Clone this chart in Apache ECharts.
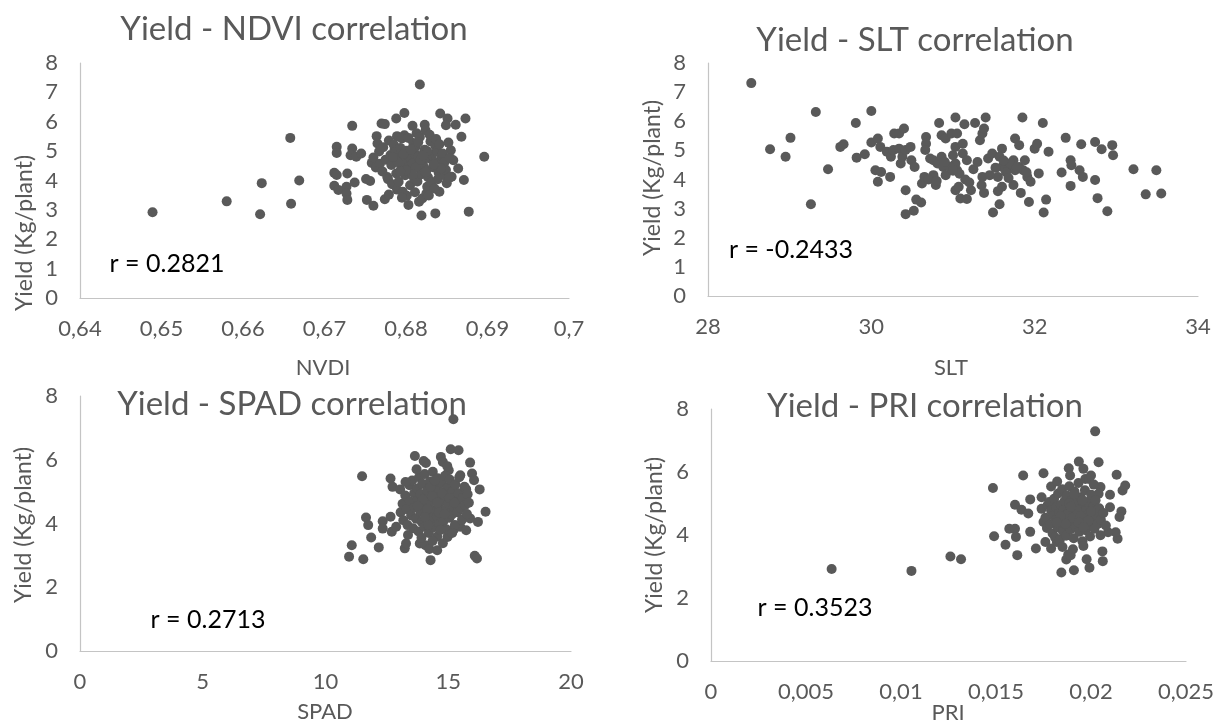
<!DOCTYPE html>
<html>
<head>
<meta charset="utf-8">
<title>Yield correlations</title>
<script src="https://cdn.jsdelivr.net/npm/echarts@6/dist/echarts.min.js"></script>
<style>
  html, body { margin: 0; padding: 0; background: #ffffff; }
  #chart { width: 1226px; height: 724px; }
</style>
</head>
<body>
<div id="chart"></div>
<script>
// Yield (kg/plant) against four canopy indices, one [index, yield] pair per plant.
const ndviPoints = [
  [0.6489,2.92],[0.6580,3.29],[0.6621,2.85],[0.6623,3.91],[0.6658,5.45],[0.6659,3.21],[0.6669,4.00],
  [0.6734,5.86],[0.6715,5.15],[0.6715,4.94],[0.6712,4.26],[0.6715,4.19],[0.6712,3.82],[0.6717,3.68],
  [0.6728,4.24],[0.6727,3.79],[0.6727,3.56],[0.6728,3.34],[0.6734,5.09],[0.6732,4.86],[0.6739,4.81],[0.6745,4.92],
  [0.6737,3.93],[0.6751,4.05],[0.6752,3.34],[0.6760,3.14],[0.6756,3.98],[0.6758,4.60],[0.6760,4.78],
  [0.6764,5.51],[0.6765,5.26],[0.6770,5.94],[0.6774,5.92],[0.6774,3.36],[0.6788,6.11],[0.6798,6.30],
  [0.6789,5.51],[0.6798,5.54],[0.6801,3.48],[0.6803,3.17],[0.6808,5.86],[0.6823,5.90],[0.6817,7.27],
  [0.6819,2.81],[0.6816,3.28],[0.6820,3.39],[0.6825,3.56],[0.6836,2.88],[0.6836,5.37],[0.6837,5.15],
  [0.6842,6.28],[0.6851,6.11],[0.6849,5.88],[0.6861,5.90],[0.6873,6.11],[0.6868,5.49],[0.6855,5.03],
  [0.6858,4.69],[0.6864,4.41],[0.6856,4.13],[0.6871,4.02],[0.6841,3.62],[0.6877,2.94],[0.6896,4.81],
  [0.6763,4.44],[0.6768,4.57],[0.6767,4.99],[0.6772,5.13],[0.6771,4.31],[0.6777,4.12],[0.6775,4.71],[0.6779,5.36],
  [0.6781,4.87],[0.6778,4.04],[0.6783,3.87],[0.6786,5.06],[0.6782,4.53],[0.6788,4.24],[0.6785,5.22],[0.6789,3.69],
  [0.6792,4.79],[0.6787,4.96],[0.6794,4.40],[0.6791,3.96],[0.6795,5.43],[0.6797,4.64],[0.6793,5.11],[0.6799,4.18],
  [0.6802,4.86],[0.6796,3.62],[0.6804,4.47],[0.6800,5.01],[0.6806,4.73],[0.6803,4.29],[0.6809,5.28],[0.6805,3.84],
  [0.6811,4.91],[0.6808,4.58],[0.6813,5.61],[0.6810,4.07],[0.6815,4.81],[0.6812,5.16],[0.6818,4.38],[0.6814,3.97],
  [0.6820,4.66],[0.6817,5.48],[0.6822,4.95],[0.6819,4.21],[0.6824,5.71],[0.6821,4.52],[0.6826,3.79],[0.6823,5.05],
  [0.6828,4.76],[0.6825,4.34],[0.6830,5.33],[0.6827,4.11],[0.6832,4.88],[0.6829,5.56],[0.6834,4.61],[0.6831,3.93],
  [0.6836,5.19],[0.6833,4.45],[0.6838,4.99],[0.6835,3.73],[0.6840,4.27],[0.6837,5.41],[0.6842,4.69],[0.6839,4.04],
  [0.6844,4.84],[0.6846,4.51],[0.6841,5.23],[0.6848,4.17],[0.6845,4.92],[0.6850,3.91],[0.6847,4.62],[0.6852,5.29],
  [0.6849,4.36],[0.6854,4.77],[0.6853,4.09],[0.6779,3.52],[0.6795,3.41],[0.6811,3.60],[0.6828,3.49],[0.6843,4.41],
  [0.6790,4.62],[0.6797,4.90],[0.6806,5.05],[0.6812,4.45],[0.6818,4.70],[0.6824,4.28],[0.6808,4.20],[0.6800,4.35],
  [0.6815,5.30],[0.6826,5.00],[0.6784,4.80],[0.6803,5.45],[0.6821,4.85],[0.6834,4.55],[0.6793,4.30]
];

const sltPoints = [
  [28.53,7.31],[28.76,5.04],[28.95,4.78],[29.01,5.43],[29.26,3.15],[29.32,6.32],[29.47,4.35],[29.62,5.12],
  [29.66,5.21],[29.81,5.94],[29.82,4.75],[29.92,4.87],[30.00,6.35],[30.00,5.27],[30.08,5.41],[30.05,4.32],
  [30.12,4.26],[30.08,3.92],[30.11,5.12],[30.19,4.95],[30.24,4.78],[30.27,5.01],[30.34,5.06],[30.23,4.09],
  [30.28,5.58],[30.34,5.58],[30.40,5.75],[30.36,4.55],[30.38,4.78],[30.42,5.01],[30.42,3.63],[30.42,2.81],
  [30.48,5.12],[30.49,4.66],[30.53,4.43],[30.52,2.93],[30.55,3.31],[30.61,3.21],[30.62,3.86],[30.65,4.09],
  [30.67,5.46],[30.67,5.23],[30.66,5.01],[30.72,4.72],[30.76,4.66],[30.81,4.55],[30.79,3.81],[30.76,4.15],
  [30.83,5.94],[30.86,5.52],[30.91,5.41],[30.86,4.78],[30.88,4.43],[30.91,4.15],[30.98,5.58],[31.05,5.58],
  [31.03,6.13],[31.03,5.12],[31.00,4.83],[31.03,4.55],[31.05,4.32],[31.03,3.63],[31.07,3.75],[31.09,3.35],
  [31.17,3.33],[31.14,5.90],[31.27,5.94],[31.12,5.23],[31.12,4.89],[31.17,4.66],[31.22,3.63],[31.33,5.35],
  [31.36,5.58],[31.38,5.75],[31.40,6.13],[31.36,4.09],[31.38,3.54],[31.43,4.72],[31.48,4.89],[31.49,2.87],
  [31.57,3.15],[31.60,5.06],[31.57,4.78],[31.60,4.43],[31.60,3.75],[31.55,4.09],[31.69,4.43],[31.74,4.66],
  [31.76,4.32],[31.81,4.43],[31.86,4.32],[31.74,3.81],[31.83,3.54],[31.76,5.41],[31.81,5.18],[31.85,6.13],
  [31.93,3.23],[31.95,3.92],[31.91,4.09],[31.88,4.66],[32.00,5.06],[32.03,5.23],[32.05,4.21],[32.10,5.94],
  [32.11,2.87],[32.14,3.31],[32.17,4.95],[32.33,4.24],[32.38,5.43],[32.44,4.66],[32.45,4.49],[32.44,3.78],
  [32.57,5.21],[32.55,4.32],[32.59,4.09],[32.74,5.29],[32.74,3.98],[32.77,3.36],[32.82,5.04],[32.89,2.91],
  [32.95,5.18],[32.96,4.83],[33.21,4.35],[33.36,3.49],[33.49,4.32],[33.55,3.52],
  [30.95,4.45],[31.08,4.20],[31.15,4.00],[31.25,4.35],[31.30,4.60],[31.45,4.15],[31.52,4.40],[31.65,4.25],
  [31.70,4.55],[31.78,4.40],[31.62,4.65],[30.70,4.00],[30.80,3.95],[30.90,4.60],[31.00,4.30],[31.20,3.90],
  [31.35,3.80],[31.55,3.60],[31.68,4.05],[31.90,4.25]
];

const spadPoints = [
  [10.96,2.96],[11.07,3.32],[11.54,2.88],[11.49,5.48],[11.65,4.19],[11.74,3.95],[11.86,3.56],[12.17,3.25],
  [12.33,4.07],[12.33,3.84],[12.65,5.41],[12.73,5.15],[12.65,4.21],[12.70,3.74],[12.88,3.90],[13.04,5.07],
  [13.23,3.22],[13.28,3.37],[13.36,3.64],[13.64,6.12],[14.00,5.96],[14.09,5.90],[13.84,3.37],[14.07,3.32],
  [14.28,2.85],[14.23,3.20],[14.55,3.16],[14.55,3.59],[14.78,3.38],[14.70,6.09],[14.78,5.93],[15.02,5.67],
  [15.10,6.33],[15.42,6.30],[15.21,7.27],[14.97,3.58],[15.25,3.84],[15.49,3.90],[15.49,5.51],[15.73,5.07],
  [15.89,5.91],[15.97,5.57],[16.05,5.36],[15.73,3.79],[15.89,4.16],[16.21,4.05],[16.28,5.07],[16.52,4.37],
  [16.08,2.99],[16.17,2.90],
  [13.06,4.35],[13.14,4.62],[13.17,4.10],[13.25,4.88],[13.31,4.45],[13.34,3.95],[13.42,5.20],[13.44,4.70],
  [13.49,4.25],[13.53,5.35],[13.57,3.85],[13.61,4.95],[13.62,4.50],[13.69,4.15],[13.73,5.10],[13.76,4.75],
  [13.79,3.75],[13.81,5.45],[13.86,4.38],[13.87,4.92],[13.92,4.05],[13.94,5.25],[13.99,4.60],[14.03,3.90],
  [14.04,5.55],[14.09,4.82],[14.12,4.30],[14.14,5.05],[14.19,4.55],[14.21,3.70],[14.25,5.32],[14.26,4.68],
  [14.31,4.12],[14.34,4.98],[14.37,5.62],[14.41,4.40],[14.42,3.88],[14.47,5.18],[14.49,4.78],[14.54,4.22],
  [14.57,5.42],[14.59,4.58],[14.64,3.98],[14.65,5.02],[14.71,4.33],[14.72,5.28],[14.77,4.72],[14.81,4.08],
  [14.82,4.90],[14.87,5.50],[14.91,4.45],[14.92,3.82],[14.97,5.12],[15.01,4.62],[15.05,4.18],[15.06,5.38],
  [15.11,4.85],[15.15,4.28],[15.17,5.00],[15.23,4.52],[15.27,3.95],[15.29,5.22],[15.35,4.70],[15.37,4.35],
  [15.43,4.95],[15.45,5.45],[15.51,4.48],[15.56,4.12],[15.59,4.80],[15.66,5.15],[15.69,4.58],[15.76,4.30],
  [15.79,4.92],[13.91,3.55],[14.36,3.45],[13.71,5.70],[14.96,5.80],[15.16,3.70],[13.26,5.30],[15.84,4.65],
  [13.95,4.75],[14.15,4.45],[14.35,4.85],[14.55,4.65],[14.75,4.95],[14.28,5.15],[14.62,4.35],[14.05,4.20],
  [14.85,4.30],[15.05,4.80],[13.75,4.55],[14.45,5.35],[15.25,4.65],[14.18,3.95],[14.68,3.80]
];

const priPoints = [
  [0.00635,2.92],[0.01055,2.86],[0.01260,3.32],[0.01316,3.23],[0.01484,5.49],[0.01490,3.96],[0.01550,3.69],
  [0.01570,4.20],[0.01600,4.20],[0.01600,4.96],[0.01634,4.80],[0.01605,3.94],[0.01612,3.36],[0.01643,5.89],
  [0.01670,4.68],[0.01680,5.13],[0.01680,4.10],[0.01710,3.57],[0.01740,5.20],[0.01750,5.96],[0.01740,4.83],
  [0.01750,4.41],[0.01760,3.78],[0.01790,5.54],[0.01790,3.57],[0.01820,3.78],[0.01844,2.81],[0.01870,3.22],
  [0.01880,3.38],[0.01893,3.36],[0.01883,6.12],[0.01890,5.89],[0.01910,2.88],[0.01936,6.33],[0.01960,6.10],
  [0.01970,5.78],[0.01990,5.78],[0.02022,7.29],[0.02040,6.31],[0.02000,5.89],[0.01977,3.23],[0.01992,2.96],
  [0.02060,3.48],[0.02062,3.17],[0.02050,5.52],[0.02040,5.31],[0.02100,5.28],[0.02135,5.91],[0.02140,3.88],
  [0.02166,5.41],[0.02180,5.57],[0.02160,4.75],[0.02150,4.57],[0.02100,4.88],[0.02130,4.09],[0.02090,4.09],
  [0.02050,3.99],
  [0.01760,4.55],[0.01772,4.95],[0.01768,4.22],[0.01781,5.05],[0.01785,4.35],[0.01790,4.78],[0.01798,4.05],
  [0.01802,4.62],[0.01806,5.15],[0.01811,3.92],[0.01815,4.48],[0.01818,4.88],[0.01824,4.25],[0.01827,5.32],
  [0.01832,4.70],[0.01836,3.85],[0.01841,4.95],[0.01845,4.40],[0.01848,5.45],[0.01852,4.12],[0.01857,4.82],
  [0.01861,5.08],[0.01864,4.55],[0.01869,3.98],[0.01873,5.25],[0.01877,4.68],[0.01880,4.30],[0.01886,5.55],
  [0.01889,4.92],[0.01893,4.18],[0.01897,4.75],[0.01901,5.12],[0.01905,4.45],[0.01909,3.90],[0.01913,5.38],
  [0.01917,4.85],[0.01921,4.25],[0.01925,5.02],[0.01929,4.60],[0.01934,5.65],[0.01938,4.10],[0.01942,4.72],
  [0.01946,5.20],[0.01950,4.38],[0.01955,3.80],[0.01959,4.98],[0.01963,4.55],[0.01968,5.42],[0.01972,4.15],
  [0.01976,4.80],[0.01981,5.05],[0.01985,4.32],[0.01990,4.68],[0.01995,3.95],[0.02001,5.28],[0.02006,4.50],
  [0.02012,4.90],[0.02018,4.20],[0.02024,5.10],[0.02030,4.62],[0.02036,4.35],[0.02043,4.85],[0.02052,4.48],
  [0.02065,4.70],[0.02078,4.30],[0.01850,3.62],[0.01905,3.55],[0.01960,3.65],[0.01822,5.70],[0.02015,5.60],
  [0.01875,4.65],[0.01905,4.55],[0.01925,4.80],[0.01945,4.60],[0.01885,5.00],[0.01955,5.10],[0.01840,4.60],
  [0.01985,4.45],[0.01910,5.30],[0.01865,4.35],[0.01935,4.40],[0.02000,4.75],[0.01820,4.40],[0.01960,4.25],
  [0.01895,4.90]
];

// Axis tick settings for each panel: [min, max, interval]
const ndviXTicks = [0.64, 0.70, 0.01];
const sltXTicks = [28, 34, 2];
const spadXTicks = [0, 20, 5];
const priXTicks = [0, 0.025, 0.005];
const yieldTicksTop = [0, 8, 1];
const yieldTicksBottom = [0, 8, 2];

const panelTitles = ['Yield - NDVI correlation', 'Yield - SLT correlation', 'Yield - SPAD correlation', 'Yield - PRI correlation'];
const xNames = ['NVDI', 'SLT', 'SPAD', 'PRI'];
const yName = 'Yield (Kg/plant)';
const rLabels = ['r = 0.2821', 'r = -0.2433', 'r = 0.2713', 'r = 0.3523'];

const FONT = 'Lato, "Open Sans", sans-serif';
const GREY = '#595959';
const DOT = '#595959';
const AXIS = '#c4c4c4';

const grids = [
  { left: 80,  top: 63,  width: 489, height: 235 },
  { left: 708, top: 63,  width: 490, height: 233 },
  { left: 80,  top: 396, width: 491, height: 255 },
  { left: 711, top: 409, width: 475, height: 252 }
];

function commaDecimal(v) {
  return String(+v.toFixed(4)).replace('.', ',');
}

function xAxisFor(i, ticks) {
  return {
    type: 'value', gridIndex: i,
    min: ticks[0], max: ticks[1], interval: ticks[2],
    splitLine: { show: false },
    axisTick: { show: false },
    axisLine: { show: true, lineStyle: { color: AXIS, width: 1.2 } },
    axisLabel: { color: GREY, fontFamily: FONT, fontSize: 22, margin: 20, formatter: commaDecimal, showMaxLabel: true, showMinLabel: true }
  };
}

function yAxisFor(i, ticks) {
  return {
    type: 'value', gridIndex: i,
    min: ticks[0], max: ticks[1], interval: ticks[2],
    splitLine: { show: false },
    axisTick: { show: false },
    axisLine: { show: true, lineStyle: { color: AXIS, width: 1.2 } },
    axisLabel: { color: GREY, fontFamily: FONT, fontSize: 22, margin: 22 }
  };
}

// Text placement for each panel: title centre, x-name centre, y-name centre, r label centre
const titlePos = [[294, 29], [915, 40], [292, 404], [925, 406]];
const xNamePos = [[323, 368], [951, 368], [325, 712], [948, 713]];
const yNamePos = [[25, 233], [653, 178], [24, 525], [655, 535]];
const rPos = [[167, 264], [791, 250], [208, 620], [815, 608]];

const graphics = [];
for (let i = 0; i < 4; i++) {
  graphics.push({
    type: 'text', x: titlePos[i][0], y: titlePos[i][1], z: 10,
    style: { text: panelTitles[i], fill: GREY, font: '33px ' + FONT, align: 'center', verticalAlign: 'middle' }
  });
  graphics.push({
    type: 'text', x: xNamePos[i][0], y: xNamePos[i][1],
    style: { text: xNames[i], fill: GREY, font: '22px ' + FONT, align: 'center', verticalAlign: 'middle' }
  });
  graphics.push({
    type: 'text', x: yNamePos[i][0], y: yNamePos[i][1], rotation: Math.PI / 2,
    style: { text: yName, fill: GREY, font: '23px ' + FONT, align: 'center', verticalAlign: 'middle' }
  });
  graphics.push({
    type: 'text', x: rPos[i][0], y: rPos[i][1],
    style: { text: rLabels[i], fill: '#000000', font: '25px ' + FONT, align: 'center', verticalAlign: 'middle' }
  });
}

const datasets = [ndviPoints, sltPoints, spadPoints, priPoints];

const chart = echarts.init(document.getElementById('chart'), null, { renderer: 'canvas' });
chart.setOption({
  animation: false,
  backgroundColor: '#ffffff',
  grid: grids,
  xAxis: [xAxisFor(0, ndviXTicks), xAxisFor(1, sltXTicks), xAxisFor(2, spadXTicks), xAxisFor(3, priXTicks)],
  yAxis: [yAxisFor(0, yieldTicksTop), yAxisFor(1, yieldTicksTop), yAxisFor(2, yieldTicksBottom), yAxisFor(3, yieldTicksBottom)],
  series: datasets.map((d, i) => ({
    type: 'scatter', xAxisIndex: i, yAxisIndex: i,
    data: d, symbol: 'circle', symbolSize: 10,
    itemStyle: { color: DOT, opacity: 1 }
  })),
  graphic: graphics
});
</script>
</body>
</html>
